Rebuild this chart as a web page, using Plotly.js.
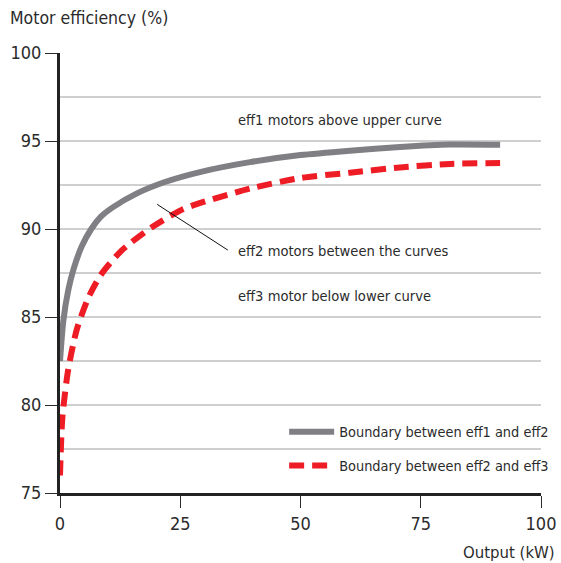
<!DOCTYPE html>
<html>
<head>
<meta charset="utf-8">
<script src="https://cdn.plot.ly/plotly-3.0.1.min.js"></script>
<style>html,body{margin:0;padding:0;background:#fff;}#chart{width:561px;height:563px;}</style>
</head>
<body>
<div id="chart"></div>
<script>
// Output (kW) and efficiency (%)
var upperX = [0, 0.7, 1.7, 2.8, 4.5, 6.5, 8.5, 10.8, 16.2, 21.8, 29.3, 39.5, 50, 60.3, 70.7, 81.1, 91.5];
var upperY = [82.5, 84.8, 86.5, 87.7, 89.0, 90.0, 90.7, 91.2, 92.05, 92.67, 93.25, 93.8, 94.2, 94.45, 94.66, 94.8, 94.78];
var lowerX = [0, 0.5, 1.7, 3.5, 5.9, 8.5, 12.9, 19.1, 25.4, 30, 39.5, 50, 60.3, 70.7, 81.1, 91.5];
var lowerY = [76.0, 79.3, 82.0, 84.3, 86.1, 87.4, 88.8, 90.1, 91.1, 91.55, 92.3, 92.9, 93.2, 93.5, 93.7, 93.75];
var seriesNames = ["Boundary between eff1 and eff2", "Boundary between eff2 and eff3"];
var xTicks = [0, 25, 50, 75, 100];
var yTicks = [75, 80, 85, 90, 95, 100];
var regionLabels = ["eff1 motors above upper curve", "eff2 motors between the curves", "eff3 motor below lower curve"];

var FONT = "Liberation Sans Narrow, DejaVu Sans Condensed, Arial Narrow, sans-serif";
var TXT = "#2b2b2b";

var traces = [
  {x: upperX, y: upperY, name: seriesNames[0], mode: "lines", legendgroup: "a",
   line: {color: "#808084", width: 6, shape: "spline", smoothing: 0.7}},
  {x: lowerX, y: lowerY, name: seriesNames[1], mode: "lines", legendgroup: "b",
   line: {color: "#ee1c25", width: 6, shape: "spline", smoothing: 0.7, dash: "15px,8px"}}
];

var layout = {
  width: 561, height: 563,
  margin: {l: 60, r: 20, t: 53, b: 70, autoexpand: false},
  paper_bgcolor: "#fff", plot_bgcolor: "#fff",
  font: {family: FONT, color: TXT, size: 15},
  showlegend: true,
  legend: {x: 0.466, xanchor: "left", y: 0.175, yanchor: "top", bgcolor: "rgba(0,0,0,0)",
           font: {size: 14.4, family: FONT, color: TXT}, tracegroupgap: 12, itemwidth: 45},
  xaxis: {range: [0, 100], tickvals: xTicks, ticks: "outside", ticklen: 12, tickwidth: 1, tickcolor: TXT,
          showline: true, linewidth: 3, linecolor: "#222", showgrid: false, zeroline: false,
          tickfont: {size: 18, family: FONT, color: TXT}, layer: "below traces", fixedrange: true},
  yaxis: {range: [75, 100], tickvals: yTicks, ticks: "outside", ticklen: 12, tickwidth: 1, tickcolor: TXT,
          showline: true, linewidth: 3, linecolor: "#222", showgrid: true, gridcolor: "#cfcfcf", gridwidth: 1.3,
          minor: {dtick: 2.5, showgrid: true, gridcolor: "#cfcfcf", gridwidth: 1.3, ticks: ""},
          zeroline: false, tickfont: {size: 18, family: FONT, color: TXT}, layer: "below traces", fixedrange: true},
  shapes: [
    {type: "line", xref: "x", yref: "y", x0: 20.2, y0: 91.4, x1: 34.9, y1: 88.8, line: {color: "#111", width: 1}}
  ],
  annotations: [
    {text: "Motor efficiency (%)", xref: "paper", yref: "paper", x: -0.108, y: 1.0795, xanchor: "left", yanchor: "middle",
     showarrow: false, font: {size: 17.5, family: FONT, color: TXT}},
    {text: "Output (kW)", xref: "paper", yref: "paper", x: 1.033, y: -0.136, xanchor: "right", yanchor: "middle",
     showarrow: false, font: {size: 16.6, family: FONT, color: TXT}},
    {text: regionLabels[0], xref: "x", yref: "y", x: 36.6, y: 96.2, xanchor: "left", yanchor: "middle", showarrow: false,
     font: {size: 14.6, family: FONT, color: TXT}},
    {text: regionLabels[1], xref: "x", yref: "y", x: 36.6, y: 88.8, xanchor: "left", yanchor: "middle", showarrow: false,
     font: {size: 14.6, family: FONT, color: TXT}},
    {text: regionLabels[2], xref: "x", yref: "y", x: 36.6, y: 86.25, xanchor: "left", yanchor: "middle", showarrow: false,
     font: {size: 14.6, family: FONT, color: TXT}}
  ]
};

Plotly.newPlot("chart", traces, layout, {displayModeBar: false, staticPlot: true});
</script>
</body>
</html>
